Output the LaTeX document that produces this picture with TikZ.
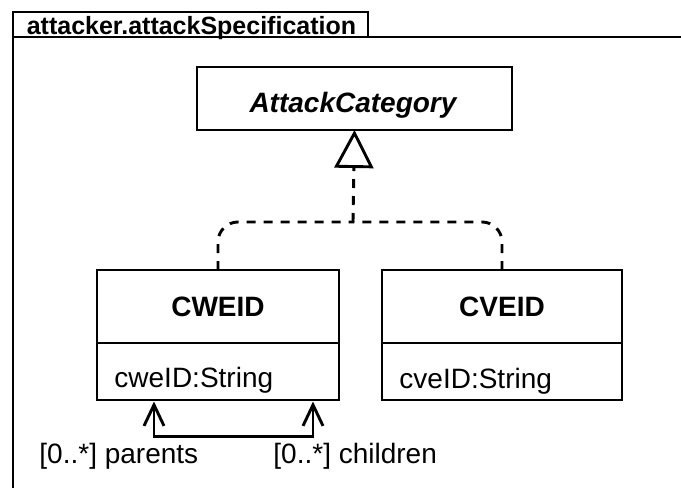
\documentclass[tikz,border=0pt]{standalone}
\usepackage{fontspec}
\setmainfont{Liberation Sans}
\usetikzlibrary{arrows.meta}
\begin{document}
\begin{tikzpicture}[x=1pt,y=-1pt,line width=2.9pt,
  box/.style={draw,rectangle,inner sep=0pt,outer sep=0pt},
  lbl/.style={inner sep=0pt,font=\fontsize{28}{34}\selectfont},
  bl/.style={inner sep=0pt,font=\fontsize{28}{34}\selectfont\bfseries},
  bi/.style={inner sep=0pt,font=\fontsize{28}{34}\selectfont\bfseries\itshape},
  ttl/.style={inner sep=0pt,font=\fontsize{25}{30}\selectfont\bfseries},
  gen/.style={dash pattern=on 9pt off 8pt},
  barb/.style={{Straight Barb[length=21pt,width=20pt]}-{Straight Barb[length=21pt,width=20pt]}}]
\useasboundingbox (0,0) rectangle (681,488);
% frame
\draw (13,488) -- (13,37) -- (681,37);
\node[box,minimum width=355pt,minimum height=25pt] (tab) at (190.5,24.5) {};
\node[ttl,anchor=base] (title) at (191.5,34) {attacker.attackSpecification};
% AttackCategory
\node[box,minimum width=315pt,minimum height=63pt] (cat) at (354.5,98.5) {};
\node[bi,anchor=base] (catname) at (353,112.5) {AttackCategory};
% CWEID
\node[box,minimum width=242pt,minimum height=73pt] (cwe) at (218,306.5) {};
\node[bl,anchor=base] (cwename) at (218,316) {CWEID};
\node[box,minimum width=242pt,minimum height=57pt,anchor=north] (cweattr) at (cwe.south) {};
\node[lbl,anchor=base west] (cweattrtxt) at (113,387) {cweID:String};
% CVEID
\node[box,minimum width=240pt,minimum height=73pt] (cve) at (502,306.5) {};
\node[bl,anchor=base] (cvename) at (502,316) {CVEID};
\node[box,minimum width=240pt,minimum height=57pt,anchor=north] (cveattr) at (cve.south) {};
\node[lbl,anchor=base west] (cveattrtxt) at (398,388) {cveID:String};
% generalization
\coordinate (j) at (353,222);
\draw[gen,rounded corners=20pt] (cwe.north) |- (j);
\draw[gen,rounded corners=20pt] (cve.north) |- (j);
\draw[gen,-{Triangle[open,length=38pt,width=39pt]}] (j) -- (cat.south);
% self association
\coordinate (p) at ([xshift=-64pt,yshift=-1.5pt]cweattr.south);
\coordinate (c) at ([xshift=95pt,yshift=-1.5pt]cweattr.south);
\draw[barb] (p) -- ++(0,35) -| (c);
\node[lbl,anchor=base west] (par) at (38,463) {[0..*] parents};
\node[lbl,anchor=base west] (chi) at (272,463) {[0..*] children};
\end{tikzpicture}
\end{document}
